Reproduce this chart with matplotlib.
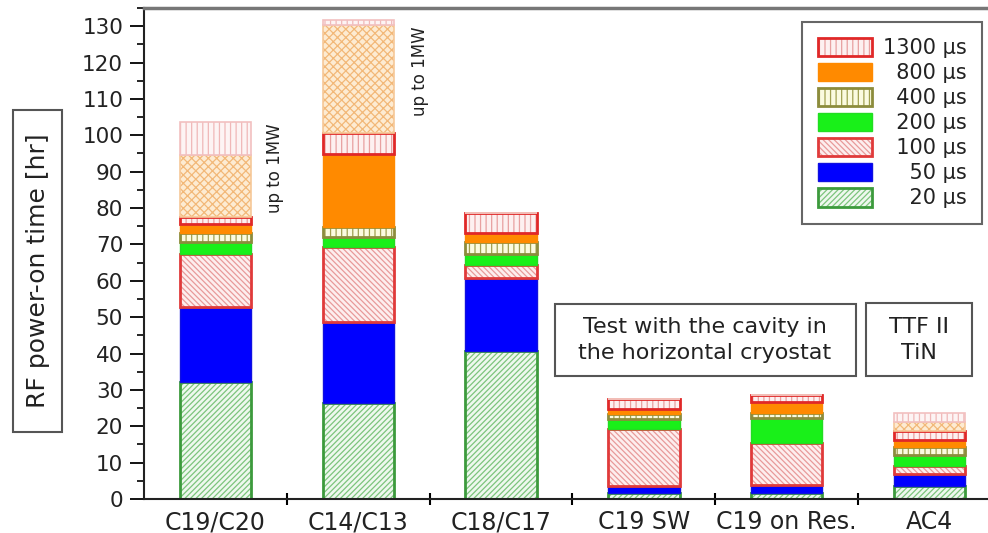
import matplotlib
matplotlib.use('Agg')
import matplotlib.pyplot as plt
import matplotlib.patches as mpatches
from matplotlib.legend_handler import HandlerTuple
from matplotlib.ticker import MultipleLocator, FixedLocator
import numpy as np

plt.rcParams['font.family'] = ['DejaVu Sans']
plt.rcParams['hatch.linewidth'] = 0.9

# cavities / couplers
cats = ['C19/C20', 'C14/C13', 'C18/C17', 'C19 SW', 'C19 on Res.', 'AC4']

# RF power-on time [hr] per pulse length, stacked bottom to top
t20 = [32.2, 26.3, 40.7, 1.6, 1.6, 3.6]
t50 = [20.7, 22.4, 20.0, 2.0, 2.3, 3.4]
t100 = [14.4, 20.6, 3.6, 15.6, 11.5, 2.1]
t200 = [3.4, 2.6, 3.2, 2.7, 6.8, 3.0]
t400 = [2.5, 2.9, 3.2, 1.4, 1.4, 2.3]
t800 = [2.4, 20.0, 2.3, 1.4, 3.2, 1.8]
t1300 = [2.0, 5.7, 5.5, 2.7, 1.8, 2.4]
# running up to 1MW
t800_1mw = [17.0, 29.8, 0, 0, 0, 2.7]
t1300_1mw = [9.1, 1.4, 0, 0, 0, 2.3]

# face, hatch colour, hatch, border colour, border width
styles = {
    '20': ('#eef8ee', '#7cc47c', '//////', '#3c9a3c', 2.0),
    '50': ('#0000ff', '#0000ff', None, '#1010e0', 1.0),
    '100': ('#fdeeee', '#e89a9a', '\\\\\\\\\\\\', '#e03a3a', 2.0),
    '200': ('#19f019', '#19f019', None, '#22dd22', 1.0),
    '400': ('#fbfbe0', '#a0a050', '|||', '#8c8c3c', 2.0),
    '800': ('#ff8a00', '#ff8a00', None, '#ff8a00', 1.0),
    '1300': ('#fdf0f0', '#e8a0a0', '|||', '#e02828', 2.0),
    '800_1mw': ('#fdebd2', '#f2b878', 'xxxx', '#f6c898', 1.2),
    '1300_1mw': ('#fdf4f4', '#f0b8b8', '|||', '#f2c0c0', 1.2),
}

series = [('20', t20), ('50', t50), ('100', t100), ('200', t200),
          ('400', t400), ('800', t800), ('1300', t1300),
          ('800_1mw', t800_1mw), ('1300_1mw', t1300_1mw)]

W, H = 988, 533
fig = plt.figure(figsize=(W / 100, H / 100), dpi=100)
ax = fig.add_axes([144 / W, 34 / H, 857 / W, 491 / H])

x = np.arange(len(cats))
bottom = np.zeros(len(cats))
for key, vals in series:
    face, hcol, hatch, edge, lw = styles[key]
    vals = np.array(vals, dtype=float)
    ax.bar(x, vals, 0.5, bottom, color=face, edgecolor=hcol, hatch=hatch, linewidth=0)
    ax.bar(x, vals, 0.5, bottom, fill=False, edgecolor=edge, linewidth=lw)
    bottom += vals

ax.set_xlim(-0.5, 5.5)
ax.set_ylim(0, 135)
ax.set_xticks(x)
ax.set_xticklabels(cats, fontsize=17, color='#222')
ax.xaxis.set_minor_locator(FixedLocator(np.arange(0.5, 5, 1.0)))
ax.tick_params(axis='x', which='major', length=0, pad=8)
ax.tick_params(axis='x', which='minor', direction='inout', length=9, width=1.5)
ax.set_yticks(np.arange(0, 131, 10))
ax.yaxis.set_minor_locator(MultipleLocator(5))
ax.tick_params(axis='y', which='major', direction='out', length=10, width=1.3,
               pad=5, labelsize=15.5, labelcolor='#222')
ax.tick_params(axis='y', which='minor', direction='out', length=5, width=1.2)

for s in ['left', 'bottom']:
    ax.spines[s].set_linewidth(1.5)
    ax.spines[s].set_color('#222')
ax.spines['top'].set_linewidth(2.5)
ax.spines['top'].set_color('#777')
ax.spines['right'].set_visible(False)

ax.text(0.42, 91, 'up to 1MW', rotation=90, fontsize=12, ha='center', va='center', color='#222')
ax.text(1.43, 117.5, 'up to 1MW', rotation=90, fontsize=12, ha='center', va='center', color='#222')


def fig_box(x0, y0, x1, y1):
    r = mpatches.Rectangle((x0 / W, 1 - y1 / H), (x1 - x0) / W, (y1 - y0) / H,
                           transform=fig.transFigure, fill=False,
                           edgecolor='#555', linewidth=1.5)
    fig.patches.append(r)


fig_box(13, 110, 62, 432)
fig.text(38 / W, 1 - 271 / H, 'RF power-on time [hr]', rotation=90, fontsize=18,
         ha='center', va='center', color='#222')

fig_box(555, 304, 856, 376)
fig.text(705 / W, 1 - 340 / H, 'Test with the cavity in\nthe horizontal cryostat',
         fontsize=16, ha='center', va='center', linespacing=1.4, color='#222')
fig_box(866, 303, 972, 376)
fig.text(919 / W, 1 - 340 / H, 'TTF II\nTiN', fontsize=16, ha='center', va='center',
         linespacing=1.4, color='#222')

labels = ['1300 \u00b5s', '\u2007800 \u00b5s', '\u2007400 \u00b5s', '\u2007200 \u00b5s',
          '\u2007100 \u00b5s', '\u2007\u200750 \u00b5s', '\u2007\u200720 \u00b5s']
keys = ['1300', '800', '400', '200', '100', '50', '20']
handles = []
for k in keys:
    face, hcol, hatch, edge, lw = styles[k]
    p1 = mpatches.Patch(facecolor=face, edgecolor=hcol, hatch=hatch, linewidth=0)
    p2 = mpatches.Patch(fill=False, edgecolor=edge, linewidth=lw)
    handles.append((p1, p2))
leg = fig.legend(handles, labels, handler_map={tuple: HandlerTuple(ndivide=1)},
                 loc='upper right', bbox_to_anchor=(982 / W, 1 - 22 / H),
                 borderaxespad=0, fontsize=15, handlelength=2.6, handleheight=1.0,
                 handletextpad=0.5, labelspacing=0.22, borderpad=0.75,
                 fancybox=False, framealpha=1)
leg.get_frame().set_edgecolor('#666')
leg.get_frame().set_linewidth(1.5)
for t in leg.get_texts():
    t.set_color('#222')

fig.savefig('out.png', dpi=100)
